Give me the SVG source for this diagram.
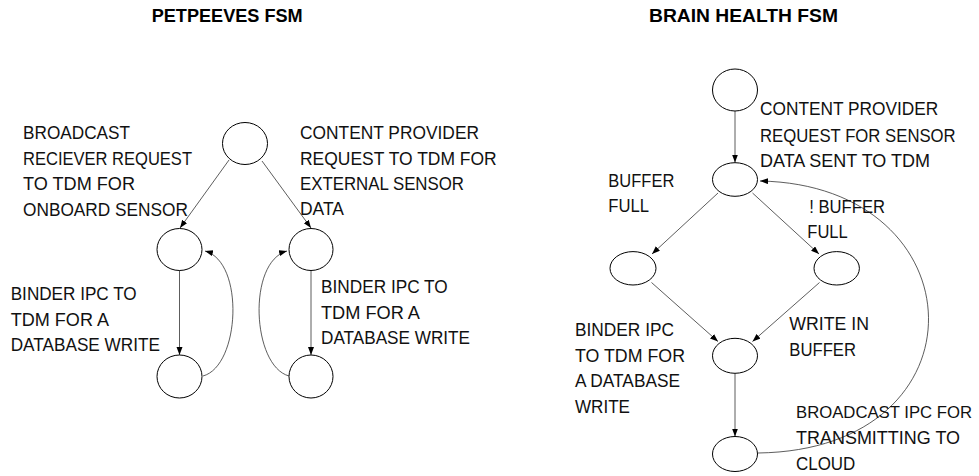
<svg xmlns="http://www.w3.org/2000/svg" width="979" height="476" viewBox="0 0 979 476">
<style>
  .st { fill: none; stroke: #000; stroke-width: 1; }
  .cn { fill: none; stroke: #333; stroke-width: 0.8; marker-end: url(#ah); }
  .lb { font-family: "Liberation Sans", Arial, sans-serif; font-size: 18.3px; fill: #111; }
  .tt { font-family: "Liberation Sans", Arial, sans-serif; font-size: 17.5px; font-weight: bold; fill: #000; }
</style>
<defs>
  <marker id="ah" markerUnits="userSpaceOnUse" markerWidth="9" markerHeight="7" refX="8" refY="3" orient="auto">
    <path d="M0,0 L8,3 L0,6 z" fill="#000"/>
  </marker>
</defs>
<rect width="979" height="476" fill="#fff"/>

<text class="tt" x="151.7" y="21.7" textLength="151" lengthAdjust="spacingAndGlyphs">PETPEEVES FSM</text>
<text class="tt" x="649" y="21.7" textLength="189" lengthAdjust="spacingAndGlyphs">BRAIN HEALTH FSM</text>

<g id="connectors">
  <path class="cn" d="M229,160 L180,228"/>
  <path class="cn" d="M262,161 L311,228"/>
  <path class="cn" d="M179.5,270.5 L179.5,355"/>
  <path class="cn" d="M311,270.5 L311,355"/>
  <path class="cn" d="M203,376 C240,366 245,262 205,251"/>
  <path class="cn" d="M289,376 C252,366 247,262 287,251"/>
  <path class="cn" d="M735,111 L735,162.5"/>
  <path class="cn" d="M718,193 L652,254"/>
  <path class="cn" d="M752.5,193 L819,254"/>
  <path class="cn" d="M651.5,282.5 L718,341.5"/>
  <path class="cn" d="M819.5,282.5 L752.5,341.5"/>
  <path class="cn" d="M735,373.5 L735,436.5"/>
  <path class="cn" d="M758,453 C990,450 980,185 760,181"/>
</g>

<g id="pp-start"><ellipse class="st" cx="245" cy="143.5" rx="22.5" ry="21"/></g>
<g id="pp-left"><ellipse class="st" cx="179.5" cy="249.5" rx="22.5" ry="21"/></g>
<g id="pp-right"><ellipse class="st" cx="311" cy="249.5" rx="22" ry="21"/></g>
<g id="pp-left-bottom"><ellipse class="st" cx="179.5" cy="376.5" rx="22.5" ry="21.5"/></g>
<g id="pp-right-bottom"><ellipse class="st" cx="311" cy="376.5" rx="22" ry="21.5"/></g>

<g id="bh-start"><ellipse class="st" cx="735" cy="90" rx="22.5" ry="21"/></g>
<g id="bh-request"><ellipse class="st" cx="735" cy="179.5" rx="22.5" ry="16.8"/></g>
<g id="bh-full"><ellipse class="st" cx="633" cy="268.3" rx="23" ry="16.7"/></g>
<g id="bh-notfull"><ellipse class="st" cx="836.7" cy="268.3" rx="22.7" ry="16.7"/></g>
<g id="bh-write"><ellipse class="st" cx="735" cy="355.8" rx="22.5" ry="17.5"/></g>
<g id="bh-broadcast"><ellipse class="st" cx="735" cy="454" rx="22.5" ry="17.5"/></g>

<g id="labels">
  <text class="lb" x="23" y="139" textLength="107" lengthAdjust="spacingAndGlyphs">BROADCAST</text>
  <text class="lb" x="23" y="165" textLength="169" lengthAdjust="spacingAndGlyphs">RECIEVER REQUEST</text>
  <text class="lb" x="23" y="190" textLength="112" lengthAdjust="spacingAndGlyphs">TO TDM FOR</text>
  <text class="lb" x="23" y="215.5" textLength="165" lengthAdjust="spacingAndGlyphs">ONBOARD SENSOR</text>

  <text class="lb" x="300" y="139" textLength="179" lengthAdjust="spacingAndGlyphs">CONTENT PROVIDER</text>
  <text class="lb" x="300" y="164.5" textLength="196.7" lengthAdjust="spacingAndGlyphs">REQUEST TO TDM FOR</text>
  <text class="lb" x="300" y="190" textLength="164" lengthAdjust="spacingAndGlyphs">EXTERNAL SENSOR</text>
  <text class="lb" x="300" y="215" textLength="44" lengthAdjust="spacingAndGlyphs">DATA</text>

  <text class="lb" x="10.7" y="300" textLength="126" lengthAdjust="spacingAndGlyphs">BINDER IPC TO</text>
  <text class="lb" x="10.7" y="325.7" textLength="98.3" lengthAdjust="spacingAndGlyphs">TDM FOR A</text>
  <text class="lb" x="10.7" y="351" textLength="149.3" lengthAdjust="spacingAndGlyphs">DATABASE WRITE</text>

  <text class="lb" x="321" y="293.3" textLength="126.7" lengthAdjust="spacingAndGlyphs">BINDER IPC TO</text>
  <text class="lb" x="321" y="318.7" textLength="99" lengthAdjust="spacingAndGlyphs">TDM FOR A</text>
  <text class="lb" x="321" y="344.3" textLength="149" lengthAdjust="spacingAndGlyphs">DATABASE WRITE</text>

  <text class="lb" x="760" y="115" textLength="178.3" lengthAdjust="spacingAndGlyphs">CONTENT PROVIDER</text>
  <text class="lb" x="760" y="141.5" textLength="195.7" lengthAdjust="spacingAndGlyphs">REQUEST FOR SENSOR</text>
  <text class="lb" x="760" y="167.3" textLength="170" lengthAdjust="spacingAndGlyphs">DATA SENT TO TDM</text>

  <text class="lb" x="608.3" y="187.3" textLength="66" lengthAdjust="spacingAndGlyphs">BUFFER</text>
  <text class="lb" x="608.3" y="212.3" textLength="40.7" lengthAdjust="spacingAndGlyphs">FULL</text>

  <text class="lb" x="809.3" y="213.3" textLength="75.7" lengthAdjust="spacingAndGlyphs">! BUFFER</text>
  <text class="lb" x="807.3" y="238.3" textLength="40.4" lengthAdjust="spacingAndGlyphs">FULL</text>

  <text class="lb" x="575" y="336" textLength="99" lengthAdjust="spacingAndGlyphs">BINDER IPC</text>
  <text class="lb" x="575" y="361.7" textLength="110" lengthAdjust="spacingAndGlyphs">TO TDM FOR</text>
  <text class="lb" x="575" y="387.3" textLength="105" lengthAdjust="spacingAndGlyphs">A DATABASE</text>
  <text class="lb" x="575" y="412.7" textLength="55" lengthAdjust="spacingAndGlyphs">WRITE</text>

  <text class="lb" x="789.3" y="330" textLength="79.7" lengthAdjust="spacingAndGlyphs">WRITE IN</text>
  <text class="lb" x="789.3" y="356" textLength="66.7" lengthAdjust="spacingAndGlyphs">BUFFER</text>

  <text class="lb" x="796" y="418.3" style="font-size:16.6px" textLength="176" lengthAdjust="spacingAndGlyphs">BROADCAST IPC FOR</text>
  <text class="lb" x="796" y="444" textLength="164" lengthAdjust="spacingAndGlyphs">TRANSMITTING TO</text>
  <text class="lb" x="796" y="470" textLength="59.3" lengthAdjust="spacingAndGlyphs">CLOUD</text>
</g>
</svg>
